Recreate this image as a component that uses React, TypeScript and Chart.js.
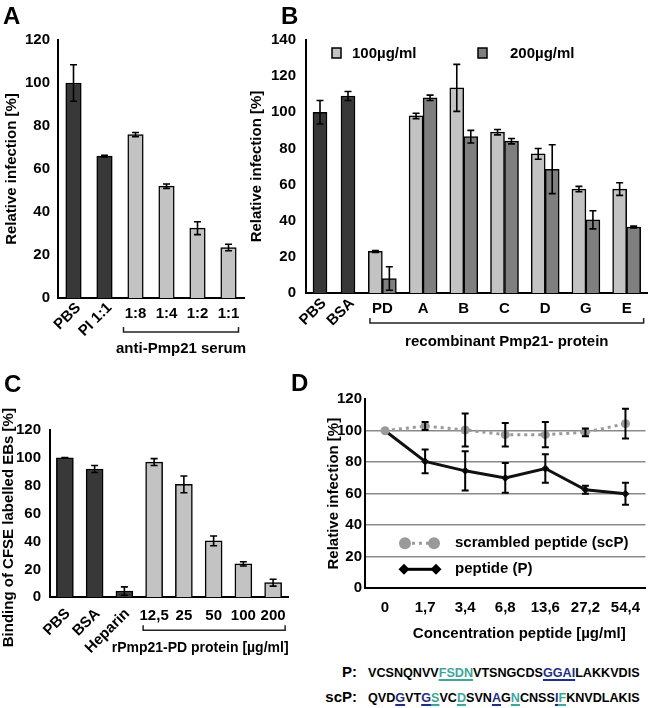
import React, { useEffect, useRef } from 'react';
import { Chart, registerables } from 'chart.js';

Chart.register(...registerables);

const FONT = '"Liberation Sans", Arial, Helvetica, sans-serif';

// ---------- Panel A ----------
const aLabels = ['PBS', 'PI 1:1', '1:8', '1:4', '1:2', '1:1'];
const aValues = [100, 66, 76, 52, 32.5, 23.5];
const aErrors = [8.5, 0.4, 1, 1, 3, 1.5];
const aGroupLabel = 'anti-Pmp21 serum';

// ---------- Panel B ----------
const bControlLabels = ['PBS', 'BSA'];
const bControlValues = [100, 109];
const bControlErrors = [6.5, 2.5];
const bProteinLabels = ['PD', 'A', 'B', 'C', 'D', 'G', 'E'];
const b100Values = [23, 98, 113.5, 89, 77, 57.5, 57.5];
const b100Errors = [0.5, 1.5, 13, 1.5, 3, 1.5, 3.5];
const b200Values = [8, 108, 86.5, 84, 68.5, 40.5, 36.5];
const b200Errors = [6.5, 1.5, 3.5, 1.5, 13.5, 5, 0.5];
const bSeriesNames = ['100µg/ml', '200µg/ml'];
const bGroupLabel = 'recombinant Pmp21- protein';

// ---------- Panel C ----------
const cLabels = ['PBS', 'BSA', 'Heparin', '12,5', '25', '50', '100', '200'];
const cValues = [100, 92, 4.5, 97, 81, 40.5, 24, 10.5];
const cErrors = [0.3, 2.5, 3, 2.5, 6, 3.5, 1.5, 2.5];
const cGroupLabel = 'rPmp21-PD protein [µg/ml]';
const cYTitle = 'Binding of CFSE labelled EBs [%]';

// ---------- Panel D ----------
const dLabels = ['0', '1,7', '3,4', '6,8', '13,6', '27,2', '54,4'];
const dScrambled = [100, 103, 100.5, 97.5, 97.5, 99, 104.5];
const dScrambledErr = [0, 2.5, 10.5, 7.5, 8, 2.5, 9.5];
const dPeptide = [100, 80.5, 74.5, 70, 76, 62.5, 60];
const dPeptideErr = [0, 7.5, 12.5, 9.5, 9, 2.5, 7];
const dSeriesNames = ['scrambled peptide (scP)', 'peptide (P)'];
const dXTitle = 'Concentration peptide [µg/ml]';

// ---------- Sequences ----------
const seqP: [string, string | null][] = [
  ['VCSNQNVV', null], ['FSDN', 'teal'], ['VTSNGCDS', null], ['GGAI', 'blue'], ['LAKKVDIS', null],
];
const seqScP: [string, string | null][] = [
  ['QVD', null], ['G', 'blue'], ['VT', null], ['G', 'blue'], ['S', 'teal'], ['VC', null], ['D', 'teal'],
  ['SVN', null], ['A', 'blue'], ['G', null], ['N', 'teal'], ['CNSS', null], ['I', 'blue'], ['F', 'teal'],
  ['KNVDLAKIS', null],
];

const DARK = '#383838';
const LIGHT = '#c3c3c3';
const MID = '#7f7f7f';
const GRAYD = '#9a9a9a';
const TEAL = '#3da79a';
const BLUE = '#1f2f86';

const f = (size: number) => ({ family: FONT, size, weight: 'bold' as const });
const cf = (size: number) => `bold ${size}px ${FONT}`;

function yAxis(max: number, width: number, pad: number, title: string | null, titlePad: number) {
  return {
    min: 0,
    max,
    ticks: { stepSize: 20, font: f(15), color: '#000', padding: pad },
    grid: { display: false, drawTicks: false },
    border: { display: true, color: '#000', width: 2 },
    title: { display: !!title, text: title || '', font: f(15), color: '#000', padding: { top: titlePad, bottom: 0 } },
    afterFit: (s: any) => { s.width = width; },
  };
}

function xAxis() {
  return {
    offset: true,
    ticks: { display: false },
    grid: { display: false, drawTicks: false },
    border: { display: true, color: '#000', width: 2 },
    afterFit: (s: any) => { s.height = 0; },
  };
}

function drawErrorBars(chart: any, capHalf: number, lw: number) {
  const { ctx } = chart;
  const y = chart.scales.y;
  chart.data.datasets.forEach((ds: any, di: number) => {
    const meta = chart.getDatasetMeta(di);
    if (!ds.errors) return;
    meta.data.forEach((el: any, i: number) => {
      const v = ds.data[i];
      const e = ds.errors[i];
      if (v == null || e == null || e <= 0) return;
      const x = el.x;
      const yt = y.getPixelForValue(v + e);
      const yb = y.getPixelForValue(Math.max(0, v - e));
      ctx.save();
      ctx.strokeStyle = '#000';
      ctx.lineWidth = lw;
      ctx.beginPath();
      ctx.moveTo(x, yt); ctx.lineTo(x, yb);
      ctx.moveTo(x - capHalf, yt); ctx.lineTo(x + capHalf, yt);
      ctx.moveTo(x - capHalf, yb); ctx.lineTo(x + capHalf, yb);
      ctx.stroke();
      ctx.restore();
    });
  });
}

function drawXLabels(chart: any, labels: string[], rotated: number, o: { rotDx: number; rotDy: number; hDy: number; size: number }) {
  const { ctx } = chart;
  const x = chart.scales.x;
  const b = chart.chartArea.bottom;
  ctx.save();
  ctx.font = cf(o.size);
  ctx.fillStyle = '#000';
  labels.forEach((lab, i) => {
    const cx = x.getPixelForValue(i);
    if (i < rotated) {
      ctx.save();
      ctx.translate(cx + o.rotDx, b + o.rotDy);
      ctx.rotate(-Math.PI / 4);
      ctx.textAlign = 'right';
      ctx.textBaseline = 'middle';
      ctx.fillText(lab, 0, 0);
      ctx.restore();
    } else {
      ctx.textAlign = 'center';
      ctx.textBaseline = 'alphabetic';
      ctx.fillText(lab, cx, b + o.hDy);
    }
  });
  ctx.restore();
}

function drawBracket(chart: any, iFrom: number, iTo: number, dxFrom: number, dxTo: number, dy: number,
  text: string, textDy: number, size: number, textDx: number) {
  const { ctx } = chart;
  const x = chart.scales.x;
  const b = chart.chartArea.bottom;
  const x1 = x.getPixelForValue(iFrom) + dxFrom;
  const x2 = x.getPixelForValue(iTo) + dxTo;
  const y = b + dy;
  ctx.save();
  ctx.strokeStyle = '#222';
  ctx.lineWidth = 1.5;
  ctx.beginPath();
  ctx.moveTo(x1, y - 5); ctx.lineTo(x1, y); ctx.lineTo(x2, y); ctx.lineTo(x2, y - 5);
  ctx.stroke();
  ctx.font = cf(size);
  ctx.fillStyle = '#000';
  ctx.textAlign = 'center';
  ctx.textBaseline = 'alphabetic';
  ctx.fillText(text, (x1 + x2) / 2 + textDx, b + textDy);
  ctx.restore();
}

const baseOpts = (padding: any) => ({
  responsive: false,
  maintainAspectRatio: false,
  animation: false,
  events: [],
  layout: { padding },
  plugins: { legend: { display: false }, tooltip: { enabled: false } },
});

function letter(left: number, top: number) {
  return {
    position: 'absolute' as const, left, top, fontSize: 24, lineHeight: '24px', fontWeight: 'bold' as const,
    fontFamily: FONT, color: '#000',
  };
}

function SeqRow({ label, segs, top }: { label: string; segs: [string, string | null][]; top: number }) {
  return (
    <div style={{ position: 'absolute', left: 300, top, display: 'flex', alignItems: 'baseline', lineHeight: '20px', fontFamily: FONT, fontWeight: 'bold', whiteSpace: 'nowrap' }}>
      <span style={{ width: 57, textAlign: 'right', fontSize: 15 }}>{label}</span>
      <span style={{ marginLeft: 11, fontSize: 12.6 }}>
        {segs.map(([t, c], i) => {
          if (!c) return <span key={i}>{t}</span>;
          const col = c === 'teal' ? TEAL : BLUE;
          return (
            <span key={i} style={{ color: col, textDecoration: 'underline', textDecorationColor: col, textDecorationThickness: '1.5px', textUnderlineOffset: '2px' }}>{t}</span>
          );
        })}
      </span>
    </div>
  );
}

export default function App() {
  const aRef = useRef<HTMLCanvasElement>(null);
  const b1Ref = useRef<HTMLCanvasElement>(null);
  const b2Ref = useRef<HTMLCanvasElement>(null);
  const cRef = useRef<HTMLCanvasElement>(null);
  const dRef = useRef<HTMLCanvasElement>(null);

  useEffect(() => {
    Chart.defaults.font.family = FONT;
    const charts: any[] = [];

    // Panel A
    charts.push(new Chart(aRef.current as any, {
      type: 'bar',
      data: {
        labels: aLabels,
        datasets: [{
          data: aValues, errors: aErrors,
          backgroundColor: aLabels.map((_, i) => (i < 2 ? DARK : LIGHT)),
          borderColor: '#000', borderWidth: 1.5, barThickness: 15.5,
        } as any],
      },
      options: {
        ...baseOpts({ top: 40, right: 6, bottom: 62, left: 0 }),
        scales: { x: xAxis(), y: yAxis(120, 58, 8, 'Relative infection [%]', 3) },
      } as any,
      plugins: [{
        id: 'ovA',
        afterDatasetsDraw: (c: any) => drawErrorBars(c, 3.5, 1.6),
        afterDraw: (c: any) => {
          drawXLabels(c, aLabels, 2, { rotDx: 5, rotDy: 7.5, hDy: 20, size: 15 });
          drawBracket(c, 2, 5, -12, 10, 34, aGroupLabel, 55, 15, 0);
        },
      }],
    }));

    // Panel B - controls
    charts.push(new Chart(b1Ref.current as any, {
      type: 'bar',
      data: {
        labels: bControlLabels,
        datasets: [{
          data: bControlValues, errors: bControlErrors,
          backgroundColor: DARK, borderColor: '#000', borderWidth: 1.5, barThickness: 14,
        } as any],
      },
      options: {
        ...baseOpts({ top: 40, right: 288, bottom: 67, left: 0 }),
        scales: { x: xAxis(), y: yAxis(140, 61, 10, 'Relative infection [%]', 3) },
      } as any,
      plugins: [{
        id: 'ovB1',
        afterDatasetsDraw: (c: any) => drawErrorBars(c, 3.5, 1.6),
        afterDraw: (c: any) => {
          drawXLabels(c, bControlLabels, 2, { rotDx: 4, rotDy: 8, hDy: 20, size: 15 });
          const { ctx, chartArea } = c;
          const l = chartArea.left;
          const t = chartArea.top;
          ctx.save();
          ctx.lineWidth = 1.5;
          ctx.strokeStyle = '#000';
          ctx.font = cf(15);
          ctx.textBaseline = 'alphabetic';
          ctx.textAlign = 'left';
          const items = [[LIGHT, 26, 46], [MID, 172, 204]] as [string, number, number][];
          items.forEach(([col, bx, tx], i) => {
            ctx.fillStyle = col;
            ctx.fillRect(l + bx, t + 8, 9, 10);
            ctx.strokeRect(l + bx, t + 8, 9, 10);
            ctx.fillStyle = '#000';
            ctx.fillText(bSeriesNames[i], l + tx, t + 18);
          });
          ctx.restore();
        },
      }],
    }));

    // Panel B - proteins
    charts.push(new Chart(b2Ref.current as any, {
      type: 'bar',
      data: {
        labels: bProteinLabels,
        datasets: [
          { label: bSeriesNames[0], data: b100Values, errors: b100Errors, backgroundColor: LIGHT, borderColor: '#000', borderWidth: 1.5, barThickness: 14 } as any,
          { label: bSeriesNames[1], data: b200Values, errors: b200Errors, backgroundColor: MID, borderColor: '#000', borderWidth: 1.5, barThickness: 14 } as any,
        ],
      },
      options: {
        ...baseOpts({ top: 40, right: 3, bottom: 67, left: 117 }),
        scales: { x: xAxis(), y: { display: false, min: 0, max: 140 } },
      } as any,
      plugins: [{
        id: 'ovB2',
        afterDatasetsDraw: (c: any) => drawErrorBars(c, 3.5, 1.6),
        afterDraw: (c: any) => {
          drawXLabels(c, bProteinLabels, 0, { rotDx: 0, rotDy: 0, hDy: 20, size: 15 });
          drawBracket(c, 0, 6, -12.4, 17, 30, bGroupLabel, 53, 15, 0);
        },
      }],
    }));

    // Panel C
    charts.push(new Chart(cRef.current as any, {
      type: 'bar',
      data: {
        labels: cLabels,
        datasets: [{
          data: cValues, errors: cErrors,
          backgroundColor: cLabels.map((_, i) => (i < 3 ? DARK : LIGHT)),
          borderColor: '#000', borderWidth: 1.5, barThickness: 17,
        } as any],
      },
      options: {
        ...baseOpts({ top: 70, right: 37, bottom: 62.7, left: 0 }),
        scales: { x: xAxis(), y: yAxis(120, 50, 9, null, 0) },
      } as any,
      plugins: [{
        id: 'ovC',
        afterDatasetsDraw: (c: any) => drawErrorBars(c, 3.5, 1.6),
        afterDraw: (c: any) => {
          drawXLabels(c, cLabels, 3, { rotDx: 3, rotDy: 14, hDy: 23, size: 15 });
          drawBracket(c, 3, 7, -11, 12, 33, cGroupLabel, 55, 14, -14);
          const { ctx, chartArea } = c;
          ctx.save();
          ctx.font = cf(15);
          ctx.fillStyle = '#000';
          ctx.textAlign = 'center';
          ctx.textBaseline = 'middle';
          ctx.translate(9, (chartArea.top + chartArea.bottom) / 2 + 14);
          ctx.rotate(-Math.PI / 2);
          ctx.fillText(cYTitle, 0, 0);
          ctx.restore();
        },
      }],
    }));

    // Panel D
    charts.push(new Chart(dRef.current as any, {
      type: 'line',
      data: {
        labels: dLabels,
        datasets: [
          {
            label: dSeriesNames[0], data: dScrambled, errors: dScrambledErr,
            borderColor: GRAYD, backgroundColor: GRAYD, borderWidth: 3, borderDash: [3, 4],
            pointStyle: 'circle', pointRadius: 4.5, pointBorderWidth: 0, tension: 0,
          } as any,
          {
            label: dSeriesNames[1], data: dPeptide, errors: dPeptideErr,
            borderColor: '#111', backgroundColor: '#111', borderWidth: 3,
            pointStyle: 'rectRot', pointRadius: 4, pointBorderWidth: 0, tension: 0,
          } as any,
        ],
      },
      options: {
        ...baseOpts({ top: 39.3, right: 4, bottom: 62, left: 0 }),
        scales: {
          x: xAxis(),
          y: {
            min: 0, max: 120,
            ticks: { stepSize: 20, font: f(15), color: '#000', padding: 3 },
            grid: {
              display: true, drawTicks: false, lineWidth: 1.5,
              color: (ctx: any) => (ctx.tick && ctx.tick.value > 0 && ctx.tick.value < 120 ? '#8a8a8a' : 'rgba(0,0,0,0)'),
            },
            border: { display: true, color: '#000', width: 2 },
            title: { display: true, text: 'Relative infection [%]', font: f(15), color: '#000', padding: { top: 0, bottom: 0 } },
            afterFit: (s: any) => { s.width = 40; },
          },
        },
      } as any,
      plugins: [{
        id: 'ovD',
        afterDatasetsDraw: (c: any) => drawErrorBars(c, 3.5, 2),
        afterDraw: (c: any) => {
          const { ctx, chartArea } = c;
          const x = c.scales.x;
          const b = chartArea.bottom;
          ctx.save();
          ctx.font = cf(15);
          ctx.fillStyle = '#000';
          ctx.textAlign = 'center';
          ctx.textBaseline = 'alphabetic';
          dLabels.forEach((lab, i) => ctx.fillText(lab, x.getPixelForValue(i), b + 24));
          ctx.fillText(dXTitle, (chartArea.left + chartArea.right) / 2 + 14, b + 50);
          // legend
          const l = chartArea.left;
          const y1 = chartArea.top + 144;
          const y2 = chartArea.top + 170;
          ctx.strokeStyle = GRAYD;
          ctx.lineWidth = 3;
          ctx.setLineDash([3, 4]);
          ctx.beginPath(); ctx.moveTo(l + 40, y1); ctx.lineTo(l + 69, y1); ctx.stroke();
          ctx.setLineDash([]);
          ctx.fillStyle = GRAYD;
          [40, 69].forEach((dx) => { ctx.beginPath(); ctx.arc(l + dx, y1, 6, 0, Math.PI * 2); ctx.fill(); });
          ctx.strokeStyle = '#000';
          ctx.beginPath(); ctx.moveTo(l + 39, y2); ctx.lineTo(l + 71, y2); ctx.stroke();
          ctx.fillStyle = '#000';
          [39, 71].forEach((dx) => {
            ctx.beginPath();
            ctx.moveTo(l + dx, y2 - 5.5); ctx.lineTo(l + dx + 5.5, y2); ctx.lineTo(l + dx, y2 + 5.5); ctx.lineTo(l + dx - 5.5, y2);
            ctx.closePath(); ctx.fill();
          });
          ctx.textAlign = 'left';
          ctx.textBaseline = 'middle';
          ctx.fillText(dSeriesNames[0], l + 90, y1);
          ctx.fillText(dSeriesNames[1], l + 90, y2);
          ctx.restore();
        },
      }],
    }));

    return () => charts.forEach((c) => c.destroy());
  }, []);

  const cv = (left: number, top: number, w: number, h: number) => ({
    position: 'absolute' as const, left, top, width: w, height: h,
  });

  return (
    <div style={{ position: 'absolute', left: 0, top: 0, width: 650, height: 708, background: '#fff', overflow: 'hidden', fontFamily: FONT }}>
      <canvas ref={aRef} width={250} height={360} style={cv(0, 0, 250, 360)} />
      <canvas ref={b1Ref} width={405} height={360} style={cv(245, 0, 405, 360)} />
      <canvas ref={b2Ref} width={405} height={360} style={cv(245, 0, 405, 360)} />
      <canvas ref={cRef} width={325} height={300} style={cv(0, 360, 325, 300)} />
      <canvas ref={dRef} width={325} height={290} style={cv(325, 360, 325, 290)} />
      <div style={letter(3, 4)}>A</div>
      <div style={letter(281, 4)}>B</div>
      <div style={letter(4, 372)}>C</div>
      <div style={letter(291, 371)}>D</div>
      <SeqRow label="P:" segs={seqP} top={662} />
      <SeqRow label="scP:" segs={seqScP} top={687} />
    </div>
  );
}
